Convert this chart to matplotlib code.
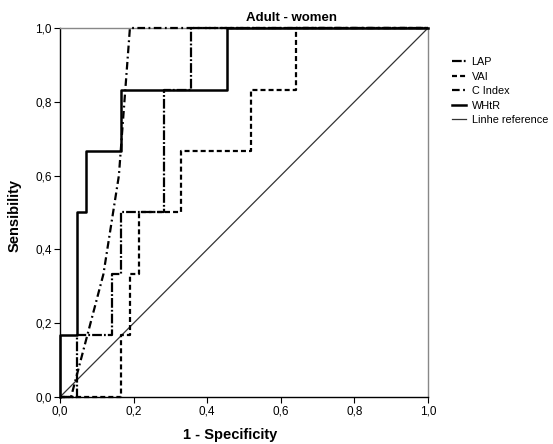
import matplotlib
matplotlib.use("Agg")
import matplotlib.pyplot as plt
from matplotlib.ticker import FuncFormatter

plt.rcParams["font.family"] = ["Liberation Sans", "DejaVu Sans"]
plt.rcParams["lines.scale_dashes"] = False

# ROC coordinates (1 - specificity, sensibility)
lap_fpr = [0, 0.045, 0.045, 0.14, 0.14, 0.165, 0.165, 0.283, 0.283, 0.355, 0.355, 1]
lap_tpr = [0, 0, 0.167, 0.167, 0.333, 0.333, 0.5, 0.5, 0.833, 0.833, 1, 1]

vai_fpr = [0, 0.167, 0.167, 0.19, 0.19, 0.214, 0.214, 0.33, 0.33, 0.52, 0.52, 0.64, 0.64, 1]
vai_tpr = [0, 0, 0.167, 0.167, 0.333, 0.333, 0.5, 0.5, 0.667, 0.667, 0.833, 0.833, 1, 1]

cindex_fpr = [0, 0.03, 0.118, 0.16, 0.19, 1]
cindex_tpr = [0, 0, 0.333, 0.6, 1, 1]

whtr_fpr = [0, 0, 0.045, 0.045, 0.07, 0.07, 0.167, 0.167, 0.455, 0.455, 1]
whtr_tpr = [0, 0.167, 0.167, 0.5, 0.5, 0.667, 0.667, 0.833, 0.833, 1, 1]

ref_line = [0, 1]

ticks = [0, 0.2, 0.4, 0.6, 0.8, 1.0]

fig = plt.figure(figsize=(5.53, 4.44), dpi=100)
ax = fig.add_axes([60 / 553, 47 / 444, 368 / 553, 369 / 444])

ax.plot(ref_line, ref_line, color="#333333", lw=0.9, label="Linhe reference", zorder=2)
ax.plot(vai_fpr, vai_tpr, color="black", lw=1.6, dashes=(3.6, 2.2), label="VAI", clip_on=False, zorder=3)
ax.plot(cindex_fpr, cindex_tpr, color="black", lw=1.6, dashes=(5.5, 2.5, 1.3, 2.5), label="C Index", clip_on=False, zorder=3)
ax.plot(lap_fpr, lap_tpr, color="black", lw=1.6, dashes=(7, 1.5, 1.3, 1.5), label="LAP", clip_on=False, zorder=4)
ax.plot(whtr_fpr, whtr_tpr, color="black", lw=1.8, label="WHtR", clip_on=False, zorder=5)

ax.set_xlim(0, 1)
ax.set_ylim(0, 1)
ax.set_xticks(ticks)
ax.set_yticks(ticks)
fmt = FuncFormatter(lambda v, p: f"{v:.1f}".replace(".", ","))
ax.xaxis.set_major_formatter(fmt)
ax.yaxis.set_major_formatter(fmt)
ax.tick_params(direction="out", length=4, width=0.8, labelsize=8.5, colors="black", pad=2)

for side in ("top", "right"):
    ax.spines[side].set_color("#888888")
    ax.spines[side].set_linewidth(1.0)
for side in ("left", "bottom"):
    ax.spines[side].set_color("black")
    ax.spines[side].set_linewidth(1.0)

fig.text(291 / 553, 1 - 18 / 444, "Adult - women", ha="center", va="center",
         fontsize=9.5, fontweight="bold")
fig.text(230 / 553, 1 - 435 / 444, "1 - Specificity", ha="center", va="center",
         fontsize=10.5, fontweight="bold")
fig.text(15 / 553, 1 - 215 / 444, "Sensibility", ha="center", va="center",
         rotation=90, fontsize=10.5, fontweight="bold")

handles, labels = ax.get_legend_handles_labels()
order = ["LAP", "VAI", "C Index", "WHtR", "Linhe reference"]
hmap = dict(zip(labels, handles))
leg = fig.legend([hmap[k] for k in order], order, loc="upper left",
                 bbox_to_anchor=(452 / 553, 1 - 57 / 444), frameon=False,
                 fontsize=7.8, handlelength=1.3, handletextpad=0.5,
                 labelspacing=0.42, borderaxespad=0, borderpad=0)

fig.savefig("out.png", dpi=100)
